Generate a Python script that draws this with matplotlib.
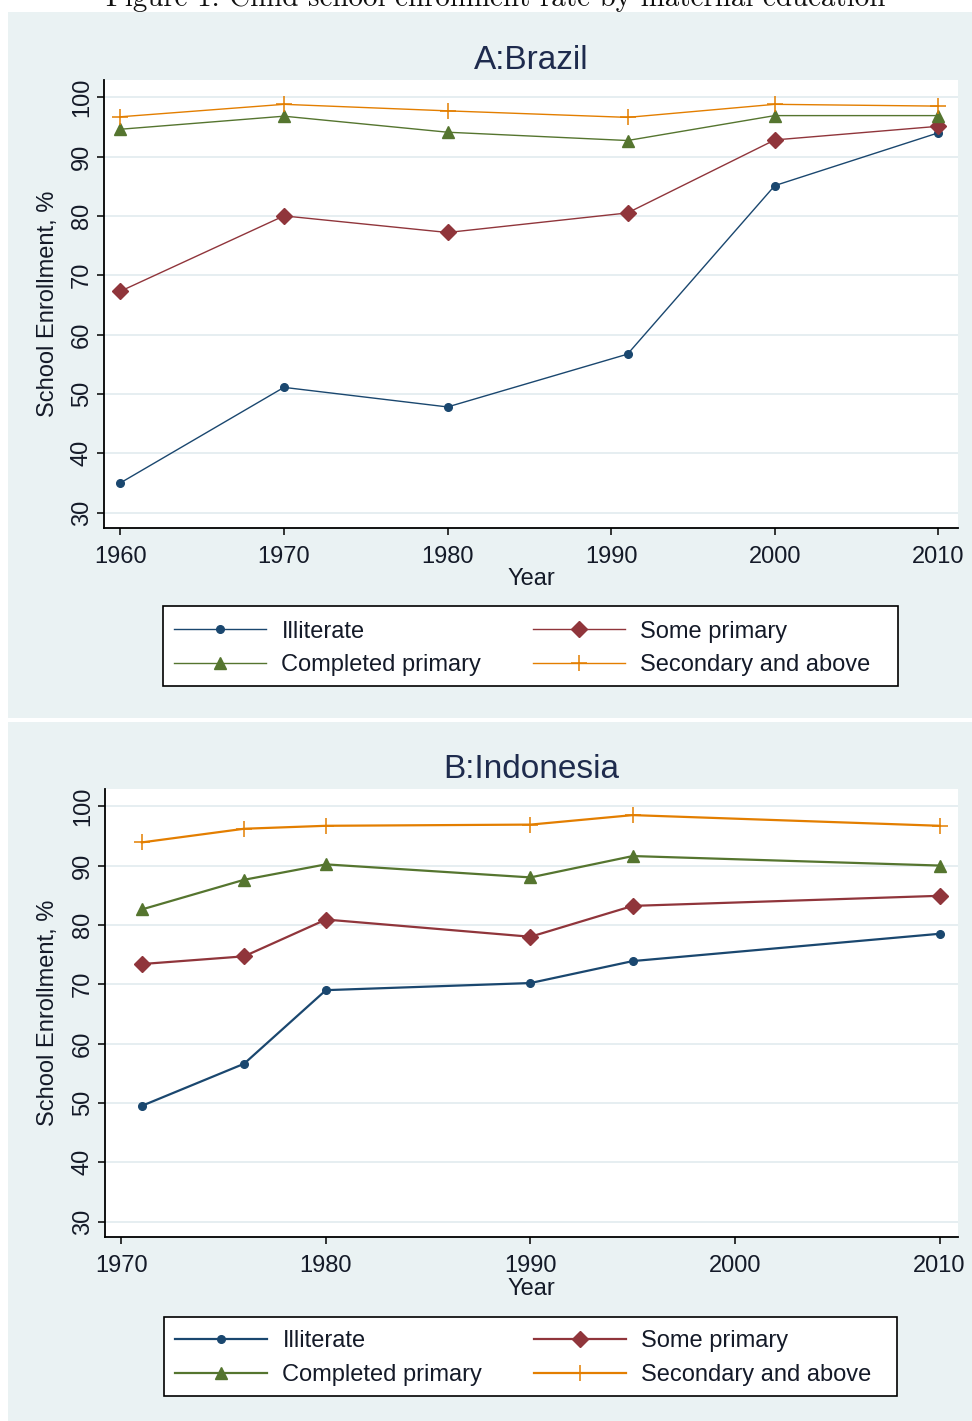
import matplotlib
matplotlib.use("Agg")
import matplotlib.pyplot as plt
from matplotlib.patches import Rectangle

# ---- data ----
brazil_years = [1960, 1970, 1980, 1991, 2000, 2010]
brazil_illiterate = [35.0, 51.1, 47.8, 56.7, 85.1, 94.0]
brazil_some_primary = [67.3, 80.0, 77.2, 80.5, 92.8, 95.1]
brazil_completed_primary = [94.6, 96.8, 94.1, 92.7, 96.9, 96.9]
brazil_secondary = [96.7, 98.8, 97.7, 96.6, 98.8, 98.5]

indonesia_years = [1971, 1976, 1980, 1990, 1995, 2010]
indonesia_illiterate = [49.5, 56.6, 69.0, 70.2, 73.9, 78.5]
indonesia_some_primary = [73.4, 74.7, 80.9, 78.0, 83.2, 84.9]
indonesia_completed_primary = [82.6, 87.6, 90.2, 88.0, 91.6, 90.0]
indonesia_secondary = [93.9, 96.2, 96.7, 96.9, 98.5, 96.7]

brazil_xticks = [1960, 1970, 1980, 1990, 2000, 2010]
indonesia_xticks = [1970, 1980, 1990, 2000, 2010]
yticks = [30, 40, 50, 60, 70, 80, 90, 100]

# ---- style ----
W, H = 972, 1421
DPI = 100
NAVY, MAROON, GREEN, ORANGE = "#1a476f", "#90353b", "#55752f", "#e37e00"
PANEL_BG = "#eaf2f3"
GRID = "#e6eef1"
TEXT = "#141a28"
TITLE = "#1e2b4d"
FONT = "Liberation Sans"

plt.rcParams["font.family"] = FONT

fig = plt.figure(figsize=(W / DPI, H / DPI), dpi=DPI)
fig.patch.set_facecolor("white")


def px_rect(x0, y0, x1, y1):
    """Figure-fraction rectangle from pixel edges (origin at top-left)."""
    return [x0 / W, 1 - y1 / H, (x1 - x0) / W, (y1 - y0) / H]


# panel backgrounds
for (x0, y0, x1, y1) in [(8, 12, 972, 718), (8, 722, 972, 1421)]:
    r = px_rect(x0, y0, x1, y1)
    fig.patches.append(Rectangle((r[0], r[1]), r[2], r[3], transform=fig.transFigure,
                                 facecolor=PANEL_BG, edgecolor="none", zorder=-10))

# caption at the top of the page
fig.text(496 / W, 1 - 6 / H, "Figure 1: Child school enrollment rate by maternal education",
         family="cmr10", fontsize=20.9, color="#111111", ha="center", va="baseline")


def draw_panel(rect, title, years, values, xticks, xlim, lw):
    ax = fig.add_axes(px_rect(*rect))
    ax.set_zorder(1)
    ax.set_facecolor("white")
    specs = [
        ("Illiterate", NAVY, "o", 5.5, 1.0),
        ("Some primary", MAROON, "D", 8, 1.0),
        ("Completed primary", GREEN, "^", 8, 1.0),
        ("Secondary and above", ORANGE, "+", 11, 1.1),
    ]
    handles = {}
    for (name, color, marker, ms, mew), vals in zip(specs, values):
        (h,) = ax.plot(years, vals, color=color, lw=lw, marker=marker, ms=ms,
                       mew=mew, mec=color, mfc=color, label=name, zorder=3,
                       clip_on=False)
        handles[name] = h
    ax.set_xlim(*xlim)
    ax.set_ylim(27.4, 102.9)
    ax.set_xticks(xticks)
    ax.set_yticks(yticks)
    ax.grid(axis="y", color=GRID, lw=1.4, zorder=0)
    ax.set_axisbelow(True)
    for s in ["top", "right"]:
        ax.spines[s].set_visible(False)
    for s in ["left", "bottom"]:
        ax.spines[s].set_color("black")
        ax.spines[s].set_linewidth(1.3)
    ax.tick_params(axis="both", direction="out", length=5, width=1.1, color="black",
                   labelsize=17, labelcolor=TEXT)
    ax.tick_params(axis="x", pad=8)
    ax.tick_params(axis="y", pad=3)
    for lab in ax.get_yticklabels():
        lab.set_rotation(90)
        lab.set_va("center")
        lab.set_ha("right")

    ax.set_title(title, fontsize=24, color=TITLE, y=1.044, va="center", pad=0)
    ax.set_ylabel("School Enrollment, %", fontsize=17, color=TEXT)
    ax.yaxis.set_label_coords((48 - rect[0]) / (rect[2] - rect[0]), 0.5)
    ax.yaxis.label.set_va("center")
    ax.set_xlabel("Year", fontsize=17, color=TEXT)
    return ax, handles


def add_legend(ax, handles, box_px, anchor_px):
    # white box with black outline behind the key
    r = px_rect(*box_px)
    frame = Rectangle((r[0], r[1]), r[2], r[3], transform=fig.transFigure,
                      facecolor="white", edgecolor="black", lw=1.2, zorder=4,
                      clip_on=False)
    ax.add_artist(frame)
    order = ["Illiterate", "Completed primary", "Some primary", "Secondary and above"]
    leg = ax.legend([handles[k] for k in order], order, ncol=2, loc="center left",
                    bbox_to_anchor=(anchor_px[0] / W, 1 - anchor_px[1] / H),
                    bbox_transform=fig.transFigure, fontsize=17, frameon=False,
                    handlelength=3.9, handletextpad=0.65, columnspacing=2.18,
                    labelspacing=0.5, borderpad=0, borderaxespad=0)
    leg.set_zorder(5)
    for t in leg.get_texts():
        t.set_color(TEXT)
    return leg


# Panel A: Brazil
rectA = (104, 80, 958, 528)
axA, hA = draw_panel(rectA, "A:Brazil", brazil_years,
                     [brazil_illiterate, brazil_some_primary,
                      brazil_completed_primary, brazil_secondary],
                     brazil_xticks, (1959.0, 2011.2), 1.0)
axA.xaxis.set_label_coords(0.5, (528 - 579) / 448)
axA.xaxis.label.set_va("center")
add_legend(axA, hA, (163, 606, 898, 686), (174, 648.5))

# Panel B: Indonesia
rectB = (105, 789, 958, 1237)
axB, hB = draw_panel(rectB, "B:Indonesia", indonesia_years,
                     [indonesia_illiterate, indonesia_some_primary,
                      indonesia_completed_primary, indonesia_secondary],
                     indonesia_xticks, (1969.2, 2010.9), 1.6)
axB.xaxis.set_label_coords(0.5, (1237 - 1289) / 448)
axB.xaxis.label.set_va("center")
add_legend(axB, hB, (164, 1317, 897, 1396), (175, 1358))

fig.savefig("out.png", dpi=DPI)
